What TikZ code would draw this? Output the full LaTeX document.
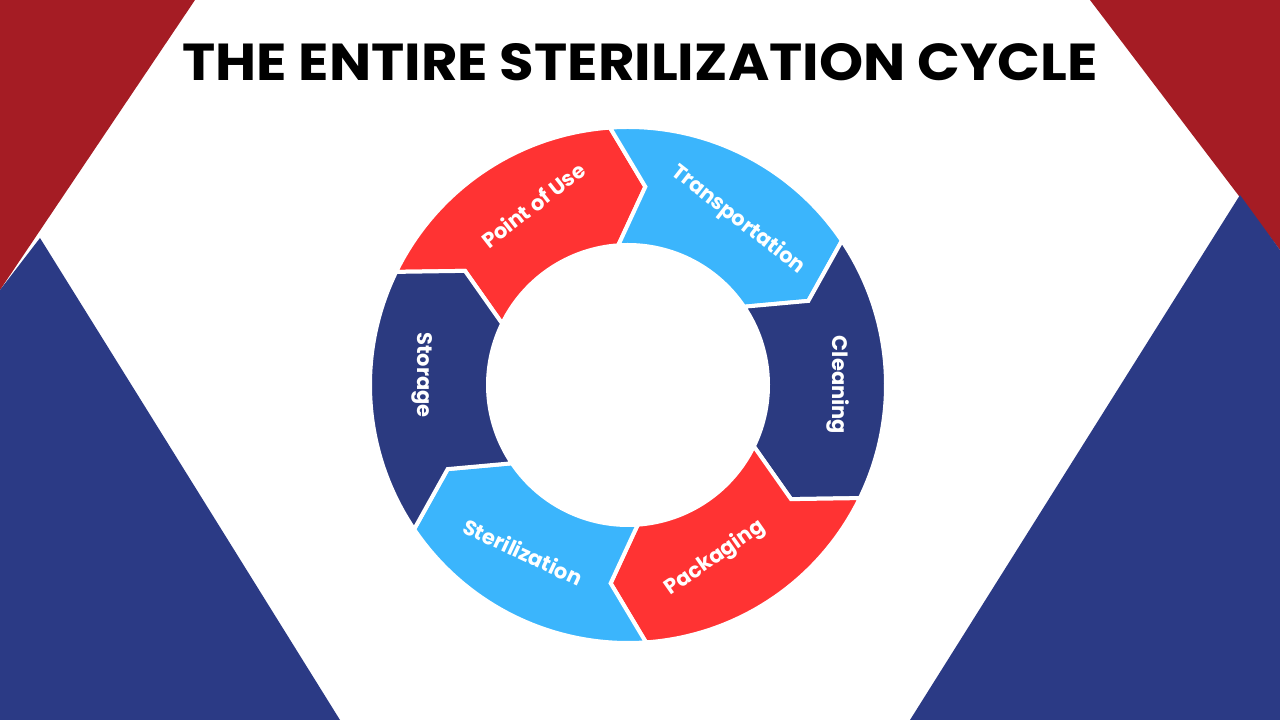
\documentclass[tikz,border=0pt]{standalone}
\usepackage{fontspec}
\setmainfont{Poppins}
\definecolor{cred}{HTML}{A51C24}
\definecolor{cblue}{HTML}{2B3A85}
\definecolor{rred}{HTML}{FF3333}
\definecolor{rlight}{HTML}{3BB5FC}
\definecolor{rdark}{HTML}{2B3A80}
\begin{document}
\begin{tikzpicture}[x=1pt,y=1pt,
  seg/.style={draw=white,line width=4pt,line join=miter},
  lbl/.style={text=white,font=\fontsize{21}{24}\selectfont\bfseries}]
\useasboundingbox (0,0) rectangle (1280,720);
\fill[white] (0,0) rectangle (1280,720);
\fill[cred] (0,720) -- (195,720) -- (0,430) -- cycle;
\fill[cblue] (0,430) -- (40,482) -- (340,0) -- (0,0) -- cycle;
\fill[cred] (1090,720) -- (1280,720) -- (1280,470) -- cycle;
\fill[cblue] (1240,525) -- (1280,470) -- (1280,0) -- (910,0) -- cycle;
\node[font=\fontsize{52}{56}\selectfont\bfseries,xscale=1.08] (title) at (640,658) {THE ENTIRE STERILIZATION CYCLE};
\def\Ro{258}\def\Ri{140}\def\Rm{199}\def\d{9}
\begin{scope}[shift={(628,335)}]
\foreach \a/\c in {154/rred,94/rlight,34/rdark,-26/rred,-86/rlight,-146/rdark}{
  \pgfmathsetmacro\b{\a-60}
  \pgfmathsetmacro\bt{\a-60-\d}
  \pgfmathsetmacro\at{\a-\d}
  \filldraw[seg,fill=\c] (\a:\Ro) arc[start angle=\a,end angle=\b,radius=\Ro] -- (\bt:\Rm) -- (\b:\Ri) arc[start angle=\b,end angle=\a,radius=\Ri] -- (\at:\Rm) -- cycle;
}
\end{scope}
\node[lbl,rotate=38] (pou) at (533,515) {Point of Use};
\node[lbl,rotate=-38] (tr) at (738,500) {Transportation};
\node[lbl,rotate=-90] (cl) at (838,335) {Cleaning};
\node[lbl,rotate=35] (pk) at (715,162) {Packaging};
\node[lbl,rotate=-25] (st) at (523,168) {Sterilization};
\node[lbl,rotate=-90] (sg) at (422,345) {Storage};
\end{tikzpicture}
\end{document}
